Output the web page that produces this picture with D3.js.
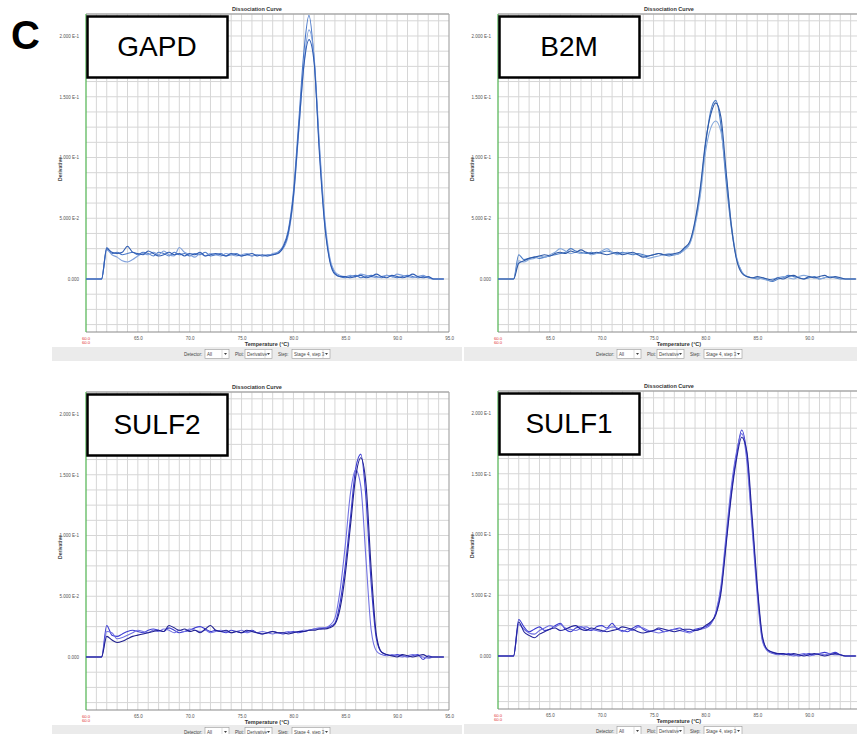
<!DOCTYPE html>
<html>
<head>
<meta charset="utf-8">
<script src="https://cdn.jsdelivr.net/npm/d3@7"></script>
<style>
  body { margin: 0; background: #fff; }
  svg { display: block; font-family: "Liberation Sans", Arial, sans-serif; }
</style>
</head>
<body>
<div id="chart"></div>
<script>
// melt curve samples, derivative values in units of 1e-3
const temps = [60,61.5,62,62.5,63,63.5,64,64.5,65,65.5,66,66.5,67,67.5,68,68.5,69,69.5,70,70.5,71,71.5,72,72.5,73,73.5,74,74.5,75,75.5,76,76.5,77,77.5,78,78.5,79,79.5,80,80.5,81,81.5,82,82.5,83,83.5,84,84.5,85,85.5,86,86.5,87,87.5,88,88.5,89,89.5,90,90.5,91,91.5,92,92.5,93,93.5,94,94.5];

const gapdA = [0,0, 26,21,22,20,21,22,20,22,21,19,22,21,19,22,20,21,19,21,20,22,19,20,21,19,20,21,19,20,19,20,19,20,20,22, 27,40,72,128,186,217,180,108,48,16,5,2,1, 2,3,1,2,3,2,1,3,2,1,2,3,2,1,2,1,0,0,0];
const gapdB = [0,0, 24,20,18,15,14,16,19,21,20,22,20,23,20,19,26,22,20,18,21,19,21,20,19,21,20,19,20,21,19,20,19,19,21,22, 25,36,66,120,176,205,182,112,52,18,6,3,2, 3,2,4,3,2,1,2,3,2,4,3,2,1,2,3,1,0,0,0];
const gapdC = [0,0, 25,22,21,22,27,22,21,20,23,21,19,20,22,20,21,19,21,20,22,19,20,21,20,19,21,20,19,20,21,19,20,19,20,21, 26,38,68,122,175,197,178,104,46,15,4,2,2, 1,2,3,1,2,4,2,1,3,2,1,2,4,2,1,2,0,0,0];

const b2mA = [0,0, 20,16,17,18,17,18,19,20,21,22,25,23,22,21,22,21,22,23,22,21,22,21,20,21,20,19,20,21,20,19,20,21, 25,30,46,72,110,138,147,126,80,42,17,6,2,1, 0,1,-1,-2,0,1,3,2,1,0,1,2,0,1,2,1,0,0,0,0];
const b2mB = [0,0, 15,14,16,17,19,18,20,22,25,23,21,22,21,22,20,21,23,25,22,20,21,22,21,20,19,17,18,19,20,21,20,21, 24,29,44,68,104,124,130,121,86,45,18,6,2,1, 1,0,-1,0,1,2,1,0,2,3,2,1,0,1,2,1,1,0,0,0];
const b2mC = [0,0, 13,15,17,18,19,20,19,21,22,21,23,22,24,22,21,22,21,20,21,22,20,21,22,20,18,19,20,21,20,20,21,22, 26,31,48,75,112,135,145,133,88,44,16,5,2,1, 2,1,0,-1,1,0,2,3,1,0,2,1,2,3,1,2,1,0,0,0];

const sulf2A = [0,0, 26,18,17,19,21,22,21,20,22,23,22,21,24,22,20,21,22,24,25,23,21,22,21,20,22,21,20,21,22,20,19,20,21,20,19,20,21,20,21,22,23,23,24, 25,28,45,75,115,155,167,130,60,15,4,2, 1,2,1,0,1,2,-2,1,0,0,0];
const sulf2B = [0,0, 21,20,15,16,18,20,22,21,20,22,21,23,22,20,22,21,23,22,21,22,20,21,22,21,20,21,22,20,21,20,21,20,19,20,20,21,20,21,22,22,23,24,24, 26,32,55,92,135,154,140,80,22,5,2,1, 2,1,0,1,2,1,0,-1,0,0,0];
const sulf2C = [0,0, 17,14,12,13,15,17,18,19,20,21,22,21,26,24,22,23,21,22,20,23,26,22,21,22,20,21,20,22,21,20,19,20,21,20,20,19,20,21,21,22,22,23,23, 24,27,40,68,108,148,164,142,72,18,4,2, 1,0,2,1,0,1,2,0,0,0,0];

const sulf1A = [0,0, 30,24,20,22,24,21,22,25,27,22,20,23,24,22,21,24,25,23,27,22,21,20,23,25,22,20,21,22,20,21,22,23,21,20,22,23, 24,27,35,55,95,135,165,186,165,110,55,14,5, 3,2,1,2,1,0,1,2,1,2,3,2,3,1,0,0,0];
const sulf1B = [0,0, 26,22,19,18,21,23,25,24,26,23,22,21,23,24,22,21,20,22,24,23,20,22,21,24,23,21,20,19,20,21,22,21,20,19,21,22, 23,26,36,58,100,140,168,183,160,105,50,12,4, 2,1,2,1,0,1,2,0,1,2,1,2,1,1,0,0,0];
const sulf1C = [0,0, 28,20,17,15,18,20,22,23,21,22,24,25,22,21,23,22,21,20,21,22,24,23,22,20,19,20,21,23,22,21,20,21,22,22,21,22, 25,28,34,52,92,132,162,180,168,115,58,16,5, 3,2,2,1,2,1,0,1,2,1,0,1,2,1,0,0,0];

const genes = ["GAPD", "B2M", "SULF2", "SULF1"];
const seriesByGene = [[gapdA, gapdB, gapdC], [b2mA, b2mB, b2mC], [sulf2A, sulf2B, sulf2C], [sulf1A, sulf1B, sulf1C]];

const xTicks = [65, 70, 75, 80, 85, 90, 95];
const yTicks = [0, 50, 100, 150, 200];
const yTickLabels = ["0.000", "5.000 E-2", "1.000 E-1", "1.500 E-1", "2.000 E-1"];

// layout
const svgWidth = 857, svgHeight = 734;
const plotW = 363, plotH = 318;
const panelPos = [[86, 14], [498, 14], [86, 392], [498, 391]];
const blueSets = [
  ["#4a78c8", "#7fa0dc", "#2f5cb3"],
  ["#4a7cc6", "#86a9dc", "#2f5aa8"],
  ["#3c3cd2", "#7272e2", "#20208f"],
  ["#3a3ad0", "#6e6ee0", "#22229a"]
];

const svg = d3.select("#chart").append("svg")
  .attr("width", svgWidth)
  .attr("height", svgHeight);

svg.append("rect").attr("width", svgWidth).attr("height", svgHeight).attr("fill", "#fff");

svg.append("text")
  .attr("x", 11).attr("y", 49)
  .attr("font-size", "40px").attr("font-weight", "bold")
  .text("C");

const x = d3.scaleLinear().domain([60, 95]).range([0, plotW]);
const y = d3.scaleLinear().domain([-43.6, 218.1]).range([plotH, 0]);

genes.forEach((gene, i) => drawPanel(gene, seriesByGene[i], panelPos[i], blueSets[i]));

function drawPanel(gene, series, pos, colors) {
  const [left, top] = pos;
  const g = svg.append("g").attr("transform", `translate(${left}, ${top})`);

  // grid
  const vGrid = d3.range(61, 95);
  const hGrid = d3.range(-37.5, 218, 12.5);
  g.selectAll(".vg").data(vGrid).enter().append("line")
    .attr("x1", d => x(d)).attr("x2", d => x(d))
    .attr("y1", 0).attr("y2", plotH)
    .attr("stroke", "#d6d6d6").attr("stroke-width", 1);
  g.selectAll(".hg").data(hGrid).enter().append("line")
    .attr("x1", 0).attr("x2", plotW)
    .attr("y1", d => y(d)).attr("y2", d => y(d))
    .attr("stroke", "#d6d6d6").attr("stroke-width", 1);

  // frame
  g.append("line").attr("x1", 0).attr("x2", plotW).attr("y1", 0).attr("y2", 0)
    .attr("stroke", "#a8a8a8").attr("stroke-width", 1.5);
  g.append("line").attr("x1", plotW).attr("x2", plotW).attr("y1", 0).attr("y2", plotH)
    .attr("stroke", "#a8a8a8").attr("stroke-width", 1.2);
  g.append("line").attr("x1", 0).attr("x2", plotW).attr("y1", plotH).attr("y2", plotH)
    .attr("stroke", "#8a8a8a").attr("stroke-width", 1.2);
  g.append("line").attr("x1", 0).attr("x2", 0).attr("y1", 0).attr("y2", plotH)
    .attr("stroke", "#5cb85c").attr("stroke-width", 1.3);

  // title
  g.append("text")
    .attr("x", 171).attr("y", -3)
    .attr("text-anchor", "middle")
    .attr("font-size", "5.5px").attr("font-weight", "bold").attr("fill", "#333")
    .text("Dissociation Curve");

  // y axis labels
  const yAxis = d3.axisLeft(y).tickValues(yTicks).tickSize(0).tickPadding(7)
    .tickFormat((d, k) => yTickLabels[k]);
  const yg = g.append("g").call(yAxis);
  yg.select(".domain").remove();
  yg.selectAll("text").attr("font-size", "4.5px").attr("fill", "#555")
    .attr("font-family", "Liberation Sans, Arial, sans-serif");

  g.append("text")
    .attr("transform", `translate(-24, 155) rotate(-90)`)
    .attr("text-anchor", "middle")
    .attr("font-size", "5px").attr("font-weight", "bold").attr("fill", "#444")
    .text("Derivative");

  // x axis labels (skip those that fall outside the picture)
  const shownTicks = xTicks.filter(t => left + x(t) + 6 < svgWidth);
  const xAxis = d3.axisBottom(x).tickValues(shownTicks).tickSize(0).tickPadding(5)
    .tickFormat(d3.format(".1f"));
  const xg = g.append("g").attr("transform", `translate(0, ${plotH})`).call(xAxis);
  xg.select(".domain").remove();
  xg.selectAll("text").attr("font-size", "4.5px").attr("fill", "#555")
    .attr("font-family", "Liberation Sans, Arial, sans-serif");

  g.append("text").attr("x", 0).attr("y", plotH + 8)
    .attr("text-anchor", "middle").attr("font-size", "4.2px").attr("fill", "#d33")
    .text("60.0");
  g.append("text").attr("x", 0).attr("y", plotH + 12)
    .attr("text-anchor", "middle").attr("font-size", "4.2px").attr("fill", "#d33")
    .text("60.0");

  g.append("text")
    .attr("x", 181).attr("y", plotH + 14)
    .attr("text-anchor", "middle")
    .attr("font-size", "5.5px").attr("font-weight", "bold").attr("fill", "#333")
    .text("Temperature (°C)");

  // toolbar
  const bar = g.append("g").attr("transform", `translate(0, ${plotH + 15})`);
  bar.append("rect").attr("x", -34).attr("y", 0).attr("width", 410).attr("height", 14)
    .attr("fill", "#ebebeb");
  const controls = [
    { label: "Detector:", lx: 98, bx: 119, bw: 24, value: "All" },
    { label: "Plot:", lx: 149, bx: 159, bw: 27, value: "Derivative" },
    { label: "Step:", lx: 192, bx: 206, bw: 38, value: "Stage 4, step 3" }
  ];
  controls.forEach(c => {
    bar.append("text").attr("x", c.lx).attr("y", 8.8)
      .attr("font-size", "4.5px").attr("fill", "#444").text(c.label);
    bar.append("rect").attr("x", c.bx).attr("y", 2.5).attr("width", c.bw).attr("height", 9)
      .attr("fill", "#fff").attr("stroke", "#999").attr("stroke-width", 0.6);
    bar.append("text").attr("x", c.bx + 2).attr("y", 8.8)
      .attr("font-size", "4.5px").attr("fill", "#444").text(c.value);
    bar.append("line").attr("x1", c.bx + c.bw - 7).attr("x2", c.bx + c.bw - 7)
      .attr("y1", 3).attr("y2", 11).attr("stroke", "#bbb").attr("stroke-width", 0.5);
    bar.append("path")
      .attr("d", `M${c.bx + c.bw - 5},6 L${c.bx + c.bw - 2},6 L${c.bx + c.bw - 3.5},8 Z`)
      .attr("fill", "#444");
  });

  // curves
  const line = d3.line()
    .x((d, k) => x(temps[k]))
    .y(d => y(d))
    .curve(d3.curveMonotoneX);
  g.selectAll(".curve").data(series).enter().append("path")
    .attr("class", "curve")
    .attr("d", line)
    .attr("fill", "none")
    .attr("stroke", (d, k) => colors[k])
    .attr("stroke-width", 1.1);

  // gene label box
  g.append("rect")
    .attr("x", 1.5).attr("y", 2.5).attr("width", 140).attr("height", 61)
    .attr("fill", "#fff").attr("stroke", "#000").attr("stroke-width", 2.5);
  g.append("text")
    .attr("x", 71).attr("y", 42)
    .attr("text-anchor", "middle")
    .attr("font-size", "28px")
    .text(gene);
}
</script>
</body>
</html>
